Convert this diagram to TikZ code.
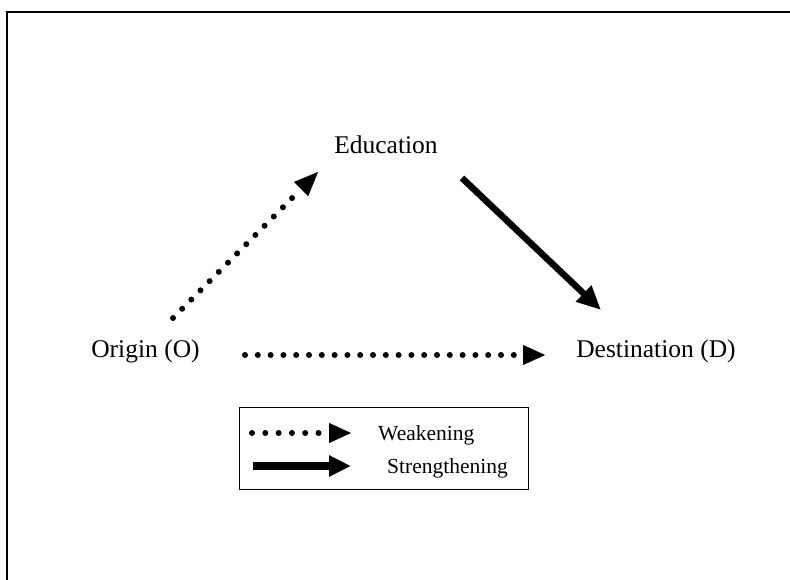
\documentclass[tikz,border=0pt]{standalone}
\usepackage{fontspec}
\setmainfont{Liberation Serif}
\usetikzlibrary{arrows.meta,calc}
\begin{document}
\begin{tikzpicture}[x=1pt,y=-1pt,
  lbl/.style={inner sep=0pt,anchor=base,font=\fontsize{25.5}{30}\selectfont},
  leglbl/.style={inner sep=0pt,anchor=base west,font=\fontsize{21.5}{26}\selectfont},
  dotline/.style={line width=6pt,line cap=round,dash pattern=on 0pt off #1},
  dotline/.default=12.8pt,
  solidline/.style={line width=6.5pt},
  bigtip/.style={-{Triangle[length=24pt,width=21pt]}},
  headonly/.style={line width=0.4pt,-{Triangle[length=#1,width=20pt]}},
  legtip/.style={-{Triangle[length=22pt,width=20pt]}}]
\useasboundingbox (0,0) rectangle (790,580);
\fill[white] (0,0) rectangle (790,580);
% frame
\draw[line width=2.5pt] (7,581) -- (7,12) -- (791,12);
% labels
\node[lbl] (E) at (386,154) {Education};
\node[lbl] (O) at (145.5,357) {Origin (O)};
\node[lbl] (D) at (656,357) {Destination (D)};
% connector ends
\coordinate (OEs) at (173,318);
\coordinate (OEt) at (318,172);
\coordinate (EDs) at (462,178);
\coordinate (EDt) at (601,310);
\coordinate (ODs) at (245,355);
\coordinate (ODt) at (545,355);
% connectors
\draw[dotline=13pt,shorten >=30pt] (OEs) -- (OEt);
\draw[headonly=24pt] ($(OEt)!24pt!(OEs)$) -- (OEt);
\draw[solidline,bigtip] (EDs) -- (EDt);
\draw[dotline=12.8pt,shorten >=28pt] (ODs) -- (ODt);
\draw[headonly=22pt] ($(ODt)!22pt!(ODs)$) -- (ODt);
% legend
\node[draw,line width=1pt,minimum width=289pt,minimum height=82pt,inner sep=0pt] (L) at (383.5,448) {};
\coordinate (W1) at (252,433);
\coordinate (W2) at (351,433);
\coordinate (S1) at (253,466);
\coordinate (S2) at (351,466);
\draw[dotline=13.3pt,shorten >=29pt] (W1) -- (W2);
\draw[headonly=22pt] ($(W2)!22pt!(W1)$) -- (W2);
\draw[line width=7.5pt,legtip] (S1) -- (S2);
\node[leglbl] (WL) at (378,440) {Weakening};
\node[leglbl] (SL) at (387,473) {Strengthening};
\end{tikzpicture}
\end{document}
